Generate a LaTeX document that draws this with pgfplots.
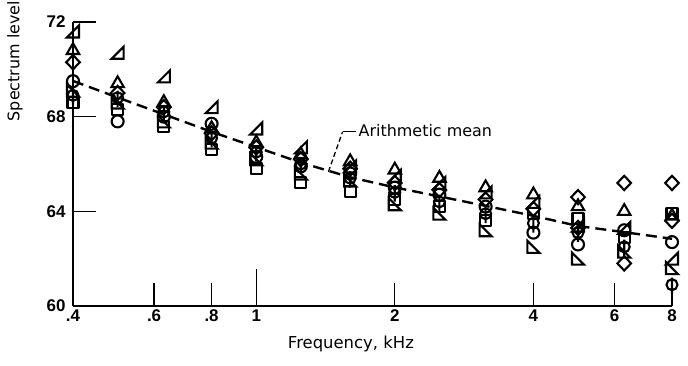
\documentclass[border=0pt]{standalone}
\usepackage{fontspec}
\setmainfont{DejaVu Sans}
\newfontfamily\tickfont{Liberation Sans}
\usepackage{pgfplots}
\pgfplotsset{compat=1.18}
\usepackage{pgfplotstable}

\pgfdeclareplotmark{rtri}{%
  \pgfpathmoveto{\pgfqpoint{-\pgfplotmarksize}{-\pgfplotmarksize}}%
  \pgfpathlineto{\pgfqpoint{\pgfplotmarksize}{-\pgfplotmarksize}}%
  \pgfpathlineto{\pgfqpoint{\pgfplotmarksize}{\pgfplotmarksize}}%
  \pgfpathclose\pgfusepathqstroke}
\pgfdeclareplotmark{ltri}{%
  \pgfpathmoveto{\pgfqpoint{-\pgfplotmarksize}{\pgfplotmarksize}}%
  \pgfpathlineto{\pgfqpoint{-\pgfplotmarksize}{-\pgfplotmarksize}}%
  \pgfpathlineto{\pgfqpoint{\pgfplotmarksize}{-\pgfplotmarksize}}%
  \pgfpathclose\pgfusepathqstroke}
\pgfdeclareplotmark{mydiamond}{%
  \pgfpathmoveto{\pgfqpoint{0pt}{1.15\pgfplotmarksize}}%
  \pgfpathlineto{\pgfqpoint{1.1\pgfplotmarksize}{0pt}}%
  \pgfpathlineto{\pgfqpoint{0pt}{-1.15\pgfplotmarksize}}%
  \pgfpathlineto{\pgfqpoint{-1.1\pgfplotmarksize}{0pt}}%
  \pgfpathclose\pgfusepathqstroke}
\pgfdeclareplotmark{phi}{%
  \pgfpathcircle{\pgfpointorigin}{\pgfplotmarksize}%
  \pgfpathmoveto{\pgfqpoint{0pt}{-1.7\pgfplotmarksize}}%
  \pgfpathlineto{\pgfqpoint{0pt}{1.3\pgfplotmarksize}}%
  \pgfusepathqstroke}

% f, circle, square, diamond, triangle, rtri, ltri, phi, diamond2
\pgfplotstableread{
f     a     b      c     d      e     g     h     k
0.4   69.5  68.6   70.3  70.8   71.6  69.1  68.9  nan
0.5   67.8  68.3   69.0  69.4   70.7  68.6  68.8  nan
0.63  68.0  67.6   68.4  68.6   69.7  67.8  68.2  nan
0.8   67.7  66.6   67.3  67.5   68.4  66.9  67.1  nan
1.0   66.3  65.8   66.7  66.9   67.5  66.2  66.5  nan
1.25  65.9  65.2   66.2  66.4   66.7  65.6  66.0  nan
1.6   65.6  64.85  65.8  66.1   65.9  65.3  65.4  nan
2.0   65.0  64.5   65.2  65.75  65.5  64.3  64.8  nan
2.5   64.7  64.2   64.9  65.4   65.2  63.9  64.4  nan
3.15  64.2  63.6   64.5  65.0   64.8  63.2  63.9  nan
4.0   63.1  63.9   64.1  64.7   64.4  62.5  63.5  nan
5.0   62.6  63.7   63.3  64.2   63.4  62.0  63.1  64.6
6.3   63.2  62.9   61.8  64.0   63.3  62.3  62.5  65.2
8.0   62.7  63.9   63.6  63.8   62.0  61.6  60.9  65.2
}\datatable

\begin{document}
\begin{tikzpicture}
\begin{axis}[
  at={(73bp,60bp)}, anchor=south west,
  scale only axis, width=599bp, height=284bp,
  xmode=log, xmin=0.4, xmax=8, ymin=60, ymax=72,
  axis x line*=bottom, axis y line*=left,
  axis line style={line width=1.8bp, black},
  tick pos=left,
  tick align=inside,
  xtick={0.4,0.6,0.8,2,4,6,8}, xticklabels={.4,.6,.8,2,4,6,8},
  extra x ticks={1}, extra x tick labels={1},
  extra x tick style={major tick length=37bp},
  ytick={60,64,68,72}, yticklabels={60,64,68,72},
  minor xtick={}, minor ytick={},
  major tick length=23bp,
  every tick/.style={line width=1.4bp, black},
  tick label style={font=\tickfont\bfseries\fontsize{17}{17}\selectfont},
  yticklabel style={xshift=-4bp},
  clip=false,
  xlabel={Frequency, kHz},
  xlabel style={at={(rel axis cs:0.464,-0.151)}, anchor=base, font=\fontsize{16.5}{18}\selectfont},
  ylabel={Spectrum level},
  ylabel style={at={(rel axis cs:-0.097,0.650)}, anchor=west, inner sep=0pt, font=\fontsize{16}{18}\selectfont},
]
\addplot[black, line width=2.4bp, dash pattern=on 11bp off 6bp] coordinates {
 (0.4,69.51) (0.5,68.81) (0.63,68.10) (0.8,67.36) (1.0,66.71) (1.25,66.06) (1.6,65.44)
 (2.0,65.01) (2.5,64.63) (3.15,64.23) (4.0,63.81) (5.0,63.38) (6.3,63.12) (8.0,62.84)};
\addplot[only marks, black, mark=o, mark size=6bp, mark options={line width=2.1bp, solid}] table[x=f,y=a]{\datatable};
\addplot[only marks, black, mark=square, mark size=5.5bp, mark options={line width=2.1bp, solid, line join=round}] table[x=f,y=b]{\datatable};
\addplot[only marks, black, mark=mydiamond, mark size=6.2bp, mark options={line width=2.1bp, solid}] table[x=f,y=c]{\datatable};
\addplot[only marks, black, mark=triangle, mark size=7.2bp, mark options={line width=2.1bp, solid}] table[x=f,y=d]{\datatable};
\addplot[only marks, black, mark=rtri, mark size=6bp, mark options={line width=2.1bp, solid}] table[x=f,y=e]{\datatable};
\addplot[only marks, black, mark=ltri, mark size=6bp, mark options={line width=2.1bp, solid}] table[x=f,y=g]{\datatable};
\addplot[only marks, black, mark=phi, mark size=5.5bp, mark options={line width=2.1bp, solid}] table[x=f,y=h]{\datatable};
\addplot[only marks, black, mark=mydiamond, mark size=6.2bp, mark options={line width=2.1bp, solid}] table[x=f,y=k]{\datatable};
\draw[black, line width=1.3bp, dash pattern=on 5bp off 3bp] (axis cs:1.435,65.67) -- (axis cs:1.54,67.36);
\draw[black, line width=1.3bp] (axis cs:1.54,67.36) -- (axis cs:1.644,67.36);
\node[anchor=west, inner sep=0pt, font=\fontsize{16}{18}\selectfont] at (axis cs:1.668,67.40) {Arithmetic mean};
\end{axis}
\pgfresetboundingbox
\useasboundingbox (0,0) rectangle (688bp,366bp);
\end{tikzpicture}
\end{document}
